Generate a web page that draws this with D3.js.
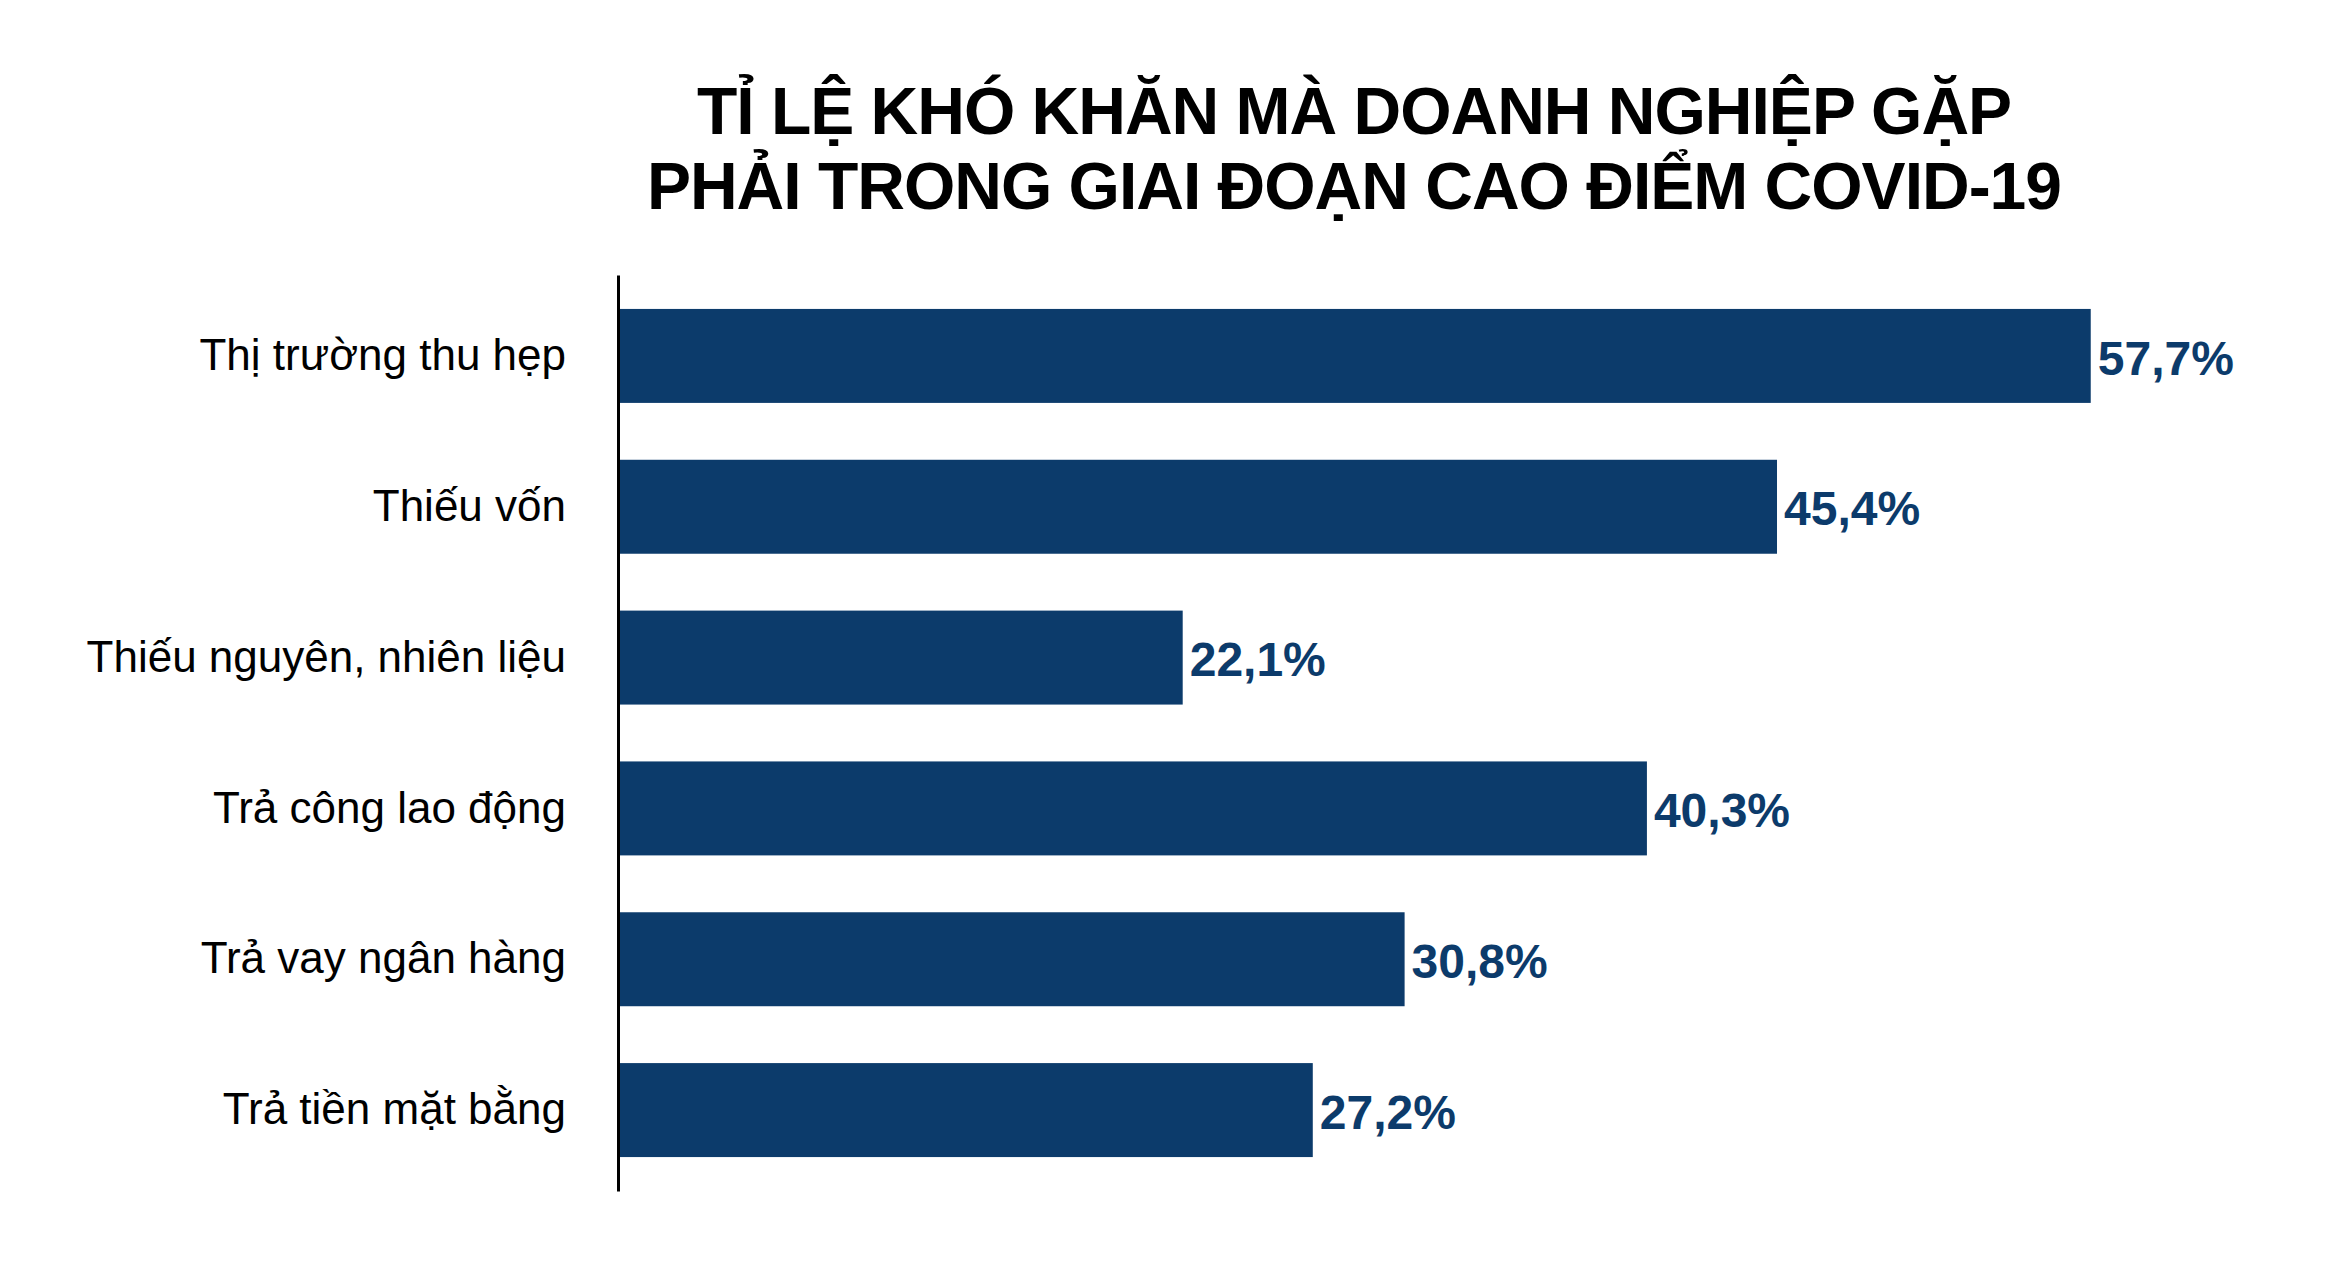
<!DOCTYPE html>
<html>
<head>
<meta charset="utf-8">
<script src="https://cdn.jsdelivr.net/npm/d3@7"></script>
<style>
  body { margin: 0; background: #fff; }
  svg { display: block; font-family: "Liberation Sans", Arial, Helvetica, sans-serif; }
</style>
</head>
<body>
<div class="viz"></div>
<script>
const width = 2334;
const height = 1280;

// data
const categories = [
    "Thị trường thu hẹp",
    "Thiếu vốn",
    "Thiếu nguyên, nhiên liệu",
    "Trả công lao động",
    "Trả vay ngân hàng",
    "Trả tiền mặt bằng"
];
const values = [57.7, 45.4, 22.1, 40.3, 30.8, 27.2];
const titleLines = [
    "TỈ LỆ KHÓ KHĂN MÀ DOANH NGHIỆP GẶP",
    "PHẢI TRONG GIAI ĐOẠN CAO ĐIỂM COVID-19"
];

const barColor = "#0c3b6b";

const svg = d3.select(".viz")
    .append("svg")
    .attr("width", width)
    .attr("height", height);

// scales
const x = d3.scaleLinear()
    .domain([0, 60])
    .range([619, 2149.4]);

const y = d3.scaleBand()
    .domain(categories)
    .range([275, 1191])
    .paddingInner(0.377)
    .paddingOuter(0.225);

const data = categories.map((c, i) => ({ cat: c, val: values[i] }));

// title
svg.append("g")
    .selectAll("text")
    .data(titleLines)
    .enter()
    .append("text")
    .attr("x", 1354)
    .attr("y", (d, i) => 134 + i * 75)
    .attr("text-anchor", "middle")
    .style("font-size", "66px")
    .style("font-weight", "bold")
    .style("letter-spacing", "-1px")
    .style("fill", "#000")
    .text(d => d);

// bars
svg.selectAll(".bar")
    .data(data)
    .enter()
    .append("rect")
    .attr("class", "bar")
    .attr("x", x(0))
    .attr("y", d => y(d.cat))
    .attr("width", d => x(d.val) - x(0))
    .attr("height", y.bandwidth())
    .style("fill", barColor);

// value labels
svg.selectAll(".value")
    .data(data)
    .enter()
    .append("text")
    .attr("class", "value")
    .attr("x", d => x(d.val) + 7)
    .attr("y", d => y(d.cat) + y.bandwidth() / 2)
    .attr("dy", "0.39em")
    .style("font-size", "48px")
    .style("font-weight", "bold")
    .style("fill", barColor)
    .text(d => d3.format(".1f")(d.val).replace(".", ",") + "%");

// y axis
const yAxis = svg.append("g")
    .attr("transform", "translate(618,0)")
    .call(d3.axisLeft(y).tickSize(0).tickPadding(52));

yAxis.select(".domain")
    .attr("stroke", "#000")
    .attr("stroke-width", 3);

yAxis.selectAll("text")
    .attr("font-family", null)
    .style("font-size", "44px")
    .style("fill", "#000");
</script>
</body>
</html>
